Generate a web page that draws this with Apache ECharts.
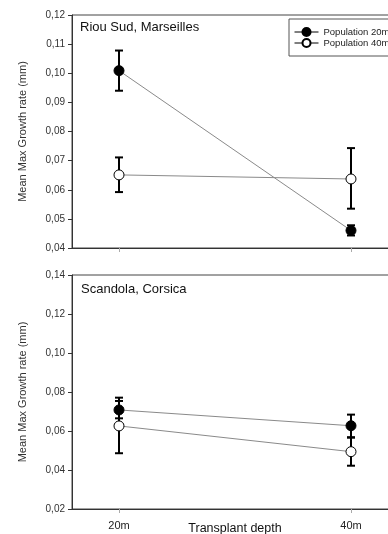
<!DOCTYPE html>
<html>
<head>
<meta charset="utf-8">
<script src="https://cdn.jsdelivr.net/npm/echarts@6/dist/echarts.min.js"></script>
<style>
  html, body { margin: 0; padding: 0; background: #fff; }
  #chart { width: 388px; height: 534px; }
</style>
</head>
<body>
<div id="chart"></div>
<script>
// transplant depths (x positions 1 and 2)
var depths = ['20m', '40m'];
var depthX = [1, 2];

// Riou Sud, Marseilles
var riouPop20 = [0.1009, 0.0460];
var riouPop20Low = [0.0940, 0.0443];
var riouPop20High = [0.1078, 0.0478];
var riouPop40 = [0.0651, 0.0637];
var riouPop40Low = [0.0592, 0.0535];
var riouPop40High = [0.0711, 0.0743];

// Scandola, Corsica
var scanPop20 = [0.0708, 0.0627];
var scanPop20Low = [0.0665, 0.0568];
var scanPop20High = [0.0754, 0.0684];
var scanPop40 = [0.0626, 0.0494];
var scanPop40Low = [0.0486, 0.0422];
var scanPop40High = [0.0771, 0.0566];

var font = 'Liberation Sans, Arial, sans-serif';

function pts(vals) {
  return vals.map(function (v, i) { return [depthX[i], v]; });
}
function bars(lo, hi) {
  return lo.map(function (v, i) { return [depthX[i], v, hi[i]]; });
}

function errorBar(params, api) {
  var x = api.value(0);
  var top = api.coord([x, api.value(2)]);
  var bot = api.coord([x, api.value(1)]);
  var w = 4;
  var st = { stroke: '#000', lineWidth: 2 };
  return {
    type: 'group',
    children: [
      { type: 'line', shape: { x1: top[0], y1: top[1], x2: bot[0], y2: bot[1] }, style: st },
      { type: 'line', shape: { x1: top[0] - w, y1: top[1], x2: top[0] + w, y2: top[1] }, style: st },
      { type: 'line', shape: { x1: bot[0] - w, y1: bot[1], x2: bot[0] + w, y2: bot[1] }, style: st }
    ]
  };
}

function lineSeries(name, idx, vals, fill) {
  return {
    name: name, type: 'line', xAxisIndex: idx, yAxisIndex: idx,
    data: pts(vals), symbol: 'circle', symbolSize: 10, z: 5,
    lineStyle: { color: '#8a8a8a', width: 1 },
    itemStyle: { color: fill, borderColor: '#000', borderWidth: 1 }
  };
}
function barSeries(idx, lo, hi) {
  return {
    type: 'custom', xAxisIndex: idx, yAxisIndex: idx,
    data: bars(lo, hi), renderItem: errorBar, z: 3
  };
}

function fmt(v) { return v.toFixed(2).replace('.', ','); }

function xAxis(idx, showLabels) {
  return {
    type: 'value', gridIndex: idx, min: 1 - 0.2026, max: 2 + 0.2026,
    splitLine: { show: false },
    axisLine: { show: true, lineStyle: { color: '#333' } },
    axisTick: { show: true, customValues: depthX, length: 4, lineStyle: { color: '#aaa' } },
    axisLabel: {
      show: showLabels, customValues: depthX, margin: 11,
      formatter: function (v) { return depths[depthX.indexOf(v)]; },
      color: '#222', fontFamily: font, fontSize: 11
    },
    name: showLabels ? 'Transplant depth' : '', nameLocation: 'middle', nameGap: 13,
    nameMoveOverlap: false,
    nameTextStyle: { color: '#111', fontFamily: font, fontSize: 12.5 }
  };
}
function yAxis(idx, min, max, step) {
  return {
    type: 'value', gridIndex: idx, min: min, max: max, interval: step,
    splitLine: { show: false },
    axisLine: { show: true, lineStyle: { color: '#333' } },
    axisTick: { show: true, length: 4, lineStyle: { color: '#333' } },
    axisLabel: { formatter: fmt, color: '#333', fontFamily: font, fontSize: 10, margin: 7 },
    name: 'Mean Max Growth rate (mm)', nameLocation: 'middle', nameGap: 44,
    nameTextStyle: { color: '#333', fontFamily: font, fontSize: 11 }
  };
}

var chart = echarts.init(document.getElementById('chart'));
chart.setOption({
  animation: false,
  backgroundColor: '#fff',
  title: [
    { text: 'Riou Sud, Marseilles', left: 80, top: 21, padding: 0,
      textStyle: { fontFamily: font, fontSize: 13, fontWeight: 'normal', color: '#111' } },
    { text: 'Scandola, Corsica', left: 81, top: 283, padding: 0,
      textStyle: { fontFamily: font, fontSize: 13, fontWeight: 'normal', color: '#111' } }
  ],
  legend: {
    data: ['Population 20m', 'Population 40m'],
    orient: 'vertical', left: 289, top: 19,
    itemWidth: 24, itemHeight: 10, itemGap: 1,
    padding: [8, 8, 8, 5],
    borderColor: '#555', borderWidth: 1, backgroundColor: '#fff',
    lineStyle: { color: '#000', width: 1 },
    textStyle: { fontFamily: font, fontSize: 9.5, color: '#222' }
  },
  grid: [
    { left: 72, width: 326, top: 15, height: 233, outerBoundsMode: 'none',
      show: true, borderColor: '#444', borderWidth: 1 },
    { left: 72, width: 326, top: 275, height: 234, outerBoundsMode: 'none',
      show: true, borderColor: '#444', borderWidth: 1 }
  ],
  xAxis: [xAxis(0, false), xAxis(1, true)],
  yAxis: [yAxis(0, 0.04, 0.12, 0.01), yAxis(1, 0.02, 0.14, 0.02)],
  series: [
    barSeries(0, riouPop20Low, riouPop20High),
    barSeries(0, riouPop40Low, riouPop40High),
    lineSeries('Population 20m', 0, riouPop20, '#000'),
    lineSeries('Population 40m', 0, riouPop40, '#fff'),
    barSeries(1, scanPop20Low, scanPop20High),
    barSeries(1, scanPop40Low, scanPop40High),
    lineSeries('Population 20m', 1, scanPop20, '#000'),
    lineSeries('Population 40m', 1, scanPop40, '#fff')
  ]
});
</script>
</body>
</html>
